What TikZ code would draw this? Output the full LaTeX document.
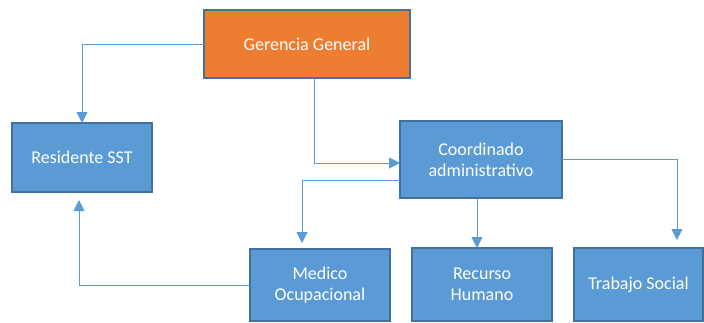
\documentclass[tikz,border=0pt]{standalone}
\usepackage{fontspec}
\setmainfont{Carlito}
\usetikzlibrary{arrows.meta}

\definecolor{boxblue}{HTML}{5B9BD5}
\definecolor{boxline}{HTML}{41719C}
\definecolor{boxorange}{HTML}{ED7D31}

\begin{document}
\begin{tikzpicture}[x=1pt,y=-1pt,
    every path/.style={line width=1pt},
    link/.style={draw=boxblue,-{Triangle[width=11pt,length=11pt]}}]
			\tikzstyle{unit} = [rectangle,draw=boxline,line width=1.5pt,fill=boxblue,text=white,
			  inner sep=0pt,outer sep=0pt,align=center,font=\fontsize{18}{21}\selectfont]
			\useasboundingbox (0,0) rectangle (704,322);
			
			\node[unit,fill=boxorange,minimum width=206pt,minimum height=68pt] (gg) at (307,44) {Gerencia General};
			\node[unit,minimum width=140pt,minimum height=69pt] (res) at (82,157.5) {Residente SST};
			\node[unit,minimum width=162pt,minimum height=77pt] (coord) at (481,159.5) {Coordinado\\administrativo};
			\node[unit,minimum width=140pt,minimum height=72pt] (med) at (320,285) {Medico\\Ocupacional};
			\node[unit,minimum width=140pt,minimum height=73pt] (rh) at (482,284.5) {Recurso\\Humano};
			\node[unit,minimum width=129pt,minimum height=73pt] (ts) at (638.5,284.5) {Trabajo Social};
			
			\draw[link] (gg.west) -| (res.north);
			\draw[link] ([xshift=7pt]gg.south) |- ([yshift=-3.5pt]coord.west);
			\draw[link,shorten >=6pt] ([yshift=-20.5pt]coord.west) -| ([xshift=-18pt]med.north);
			\draw[link] ([xshift=-4pt]coord.south) -- ([xshift=-4pt]coord.south |- rh.north);
			\draw[link,shorten >=8pt] (coord.east) -| ([xshift=38.5pt]ts.north);
			\draw[link,shorten >=8pt] (med.west) -| ([xshift=-3pt]res.south);
		\end{tikzpicture}
\end{document}
